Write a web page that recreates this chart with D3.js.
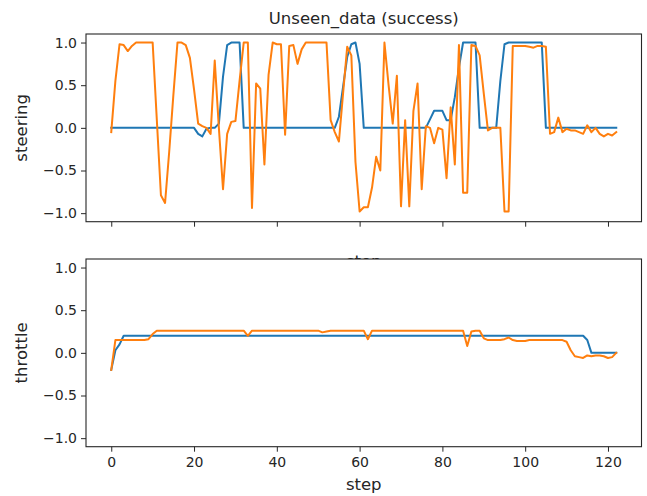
<!DOCTYPE html>
<html>
<head>
<meta charset="utf-8">
<script src="https://cdn.jsdelivr.net/npm/d3@7"></script>
<style>
  body { margin: 0; background: #fff; }
  text { font-family: "DejaVu Sans", sans-serif; fill: #262626; }
</style>
</head>
<body>
<div id="viz"></div>
<script>
// values, one entry per step (0..122)
const steeringTrue = [
    0, 0, 0, 0, 0, 0, 0, 0, 0, 0,
    0, 0, 0, 0, 0, 0, 0, 0, 0, 0,
    0, -0.07, -0.1, -0.01, 0, 0, 0.05, 0.6, 0.97, 1,
    1, 1, 0, 0, 0, 0, 0, 0, 0, 0,
    0, 0, 0, 0, 0, 0, 0, 0, 0, 0,
    0, 0, 0, 0, 0, 0.13, 0.48, 0.83, 0.98, 1,
    0.75, 0, 0, 0, 0, 0, 0, 0, 0, 0,
    0, 0, 0, 0, 0, 0, 0, 0.1, 0.2, 0.2,
    0.2, 0.09, 0.09, 0.36, 0.71, 1, 1, 1, 1, 0,
    0, 0, 0, 0, 0.55, 0.98, 1, 1, 1, 1,
    1, 1, 1, 1, 1, 0, 0, 0, 0, 0,
    0, 0, 0, 0, 0, 0, 0, 0, 0, 0,
    0, 0, 0
];
const steeringPred = [
    -0.05, 0.55, 0.98, 0.97, 0.9, 0.96, 1, 1, 1, 1,
    1, 0.1, -0.79, -0.88, -0.28, 0.38, 1, 1, 0.97, 0.82,
    0.45, 0.05, 0.02, 0, -0.07, 0.79, 0, -0.72, -0.07, 0.07,
    0.08, 0.55, 1, 1, -0.94, 0.52, 0.46, -0.43, 0.62, 1,
    0.98, 0.98, -0.08, 0.96, 0.97, 0.75, 0.92, 1, 1, 1,
    1, 1, 1, 0.09, -0.05, -0.16, 0.4, 0.95, 0.85, -0.4,
    -0.98, -0.93, -0.93, -0.7, -0.34, -0.5, 1, 0.5, 0.05, 0.61,
    -0.92, 0.09, -0.92, 0.2, 0.52, -0.72, 0.02, 0, -0.18, 0,
    -0.02, -0.59, 0.24, -0.43, 0.97, -0.76, -0.76, 0.97, 0.96, 0.85,
    0.4, -0.03, 0, 0, 0, -0.98, -0.98, 0.96, 0.96, 0.96,
    0.96, 0.95, 0.94, 0.96, 0.96, 0.95, -0.07, -0.05, 0.12, -0.05,
    -0.01, -0.03, -0.03, -0.05, -0.07, 0.03, -0.05, 0, -0.07, -0.1,
    -0.07, -0.09, -0.05
];
const throttleTrue = [
    -0.2, 0.03, 0.1, 0.2, 0.2, 0.2, 0.2, 0.2, 0.2, 0.2,
    0.2, 0.2, 0.2, 0.2, 0.2, 0.2, 0.2, 0.2, 0.2, 0.2,
    0.2, 0.2, 0.2, 0.2, 0.2, 0.2, 0.2, 0.2, 0.2, 0.2,
    0.2, 0.2, 0.2, 0.2, 0.2, 0.2, 0.2, 0.2, 0.2, 0.2,
    0.2, 0.2, 0.2, 0.2, 0.2, 0.2, 0.2, 0.2, 0.2, 0.2,
    0.2, 0.2, 0.2, 0.2, 0.2, 0.2, 0.2, 0.2, 0.2, 0.2,
    0.2, 0.2, 0.2, 0.2, 0.2, 0.2, 0.2, 0.2, 0.2, 0.2,
    0.2, 0.2, 0.2, 0.2, 0.2, 0.2, 0.2, 0.2, 0.2, 0.2,
    0.2, 0.2, 0.2, 0.2, 0.2, 0.2, 0.2, 0.2, 0.2, 0.2,
    0.2, 0.2, 0.2, 0.2, 0.2, 0.2, 0.2, 0.2, 0.2, 0.2,
    0.2, 0.2, 0.2, 0.2, 0.2, 0.2, 0.2, 0.2, 0.2, 0.2,
    0.2, 0.2, 0.2, 0.2, 0.2, 0.15, 0, 0, 0, 0,
    0, 0, 0
];
const throttlePred = [
    -0.2, 0.15, 0.15, 0.15, 0.15, 0.15, 0.15, 0.15, 0.15, 0.16,
    0.22, 0.26, 0.26, 0.26, 0.26, 0.26, 0.26, 0.26, 0.26, 0.26,
    0.26, 0.26, 0.26, 0.26, 0.26, 0.26, 0.26, 0.26, 0.26, 0.26,
    0.26, 0.26, 0.26, 0.2, 0.26, 0.26, 0.26, 0.26, 0.26, 0.26,
    0.26, 0.26, 0.26, 0.26, 0.26, 0.26, 0.26, 0.26, 0.26, 0.26,
    0.26, 0.24, 0.25, 0.26, 0.26, 0.26, 0.26, 0.26, 0.26, 0.26,
    0.26, 0.26, 0.16, 0.26, 0.26, 0.26, 0.26, 0.26, 0.26, 0.26,
    0.26, 0.26, 0.26, 0.26, 0.26, 0.26, 0.26, 0.26, 0.26, 0.26,
    0.26, 0.26, 0.26, 0.26, 0.26, 0.26, 0.08, 0.25, 0.26, 0.26,
    0.17, 0.15, 0.15, 0.15, 0.15, 0.16, 0.18, 0.15, 0.14, 0.14,
    0.14, 0.15, 0.15, 0.15, 0.15, 0.15, 0.15, 0.15, 0.15, 0.15,
    0.13, 0.03, -0.04, -0.05, -0.06, -0.03, -0.04, -0.03, -0.03, -0.04,
    -0.06, -0.05, 0
];
const xTicks = [0, 20, 40, 60, 80, 100, 120];
const yTicks = [-1, -0.5, 0, 0.5, 1];
const title = 'Unseen_data (success)';

const svg = d3.select('#viz')
    .append('svg')
    .attr('width', 647)
    .attr('height', 496);

svg.append('rect').attr('width', 647).attr('height', 496).attr('fill', '#fff');

const left = 86, right = 641.5;
const x = d3.scaleLinear()
    .domain([-6.1, 128.1])
    .range([left, right]);

const fmt = d3.format('.1f');

function panel(top, bottom, seriesA, seriesB, ylabel, showX) {
    const y = d3.scaleLinear()
        .domain([-1.1, 1.1])
        .range([bottom, top]);

    const g = svg.append('g');
    // white axes background (covers anything drawn earlier beneath it)
    g.append('rect')
        .attr('x', left).attr('y', top)
        .attr('width', right - left).attr('height', bottom - top)
        .attr('fill', '#fff');

    const line = d3.line()
        .x(function(d, i) { return x(i); })
        .y(function(d) { return y(d); });

    g.append('path').datum(seriesA)
        .attr('d', line).attr('fill', 'none')
        .attr('stroke', '#1f77b4').attr('stroke-width', 2)
        .attr('stroke-linejoin', 'round').attr('stroke-linecap', 'square');
    g.append('path').datum(seriesB)
        .attr('d', line).attr('fill', 'none')
        .attr('stroke', '#ff7f0e').attr('stroke-width', 2)
        .attr('stroke-linejoin', 'round').attr('stroke-linecap', 'square');

    const yAxis = g.append('g')
        .attr('transform', 'translate(' + left + ',0)')
        .call(d3.axisLeft(y).tickValues(yTicks).tickFormat(fmt).tickSize(5).tickPadding(4));
    const xAxis = g.append('g')
        .attr('transform', 'translate(0,' + bottom + ')')
        .call(d3.axisBottom(x).tickValues(xTicks).tickSize(5).tickPadding(5)
            .tickFormat(showX ? d3.format('d') : ''));

    [yAxis, xAxis].forEach(function(a) {
        a.select('.domain').remove();
        a.selectAll('line').attr('stroke', '#262626').attr('stroke-width', 1);
        a.selectAll('text').style('font-size', '14px').attr('fill', '#262626');
    });

    g.append('rect')
        .attr('x', left).attr('y', top)
        .attr('width', right - left).attr('height', bottom - top)
        .attr('fill', 'none').attr('stroke', '#262626').attr('stroke-width', 1.1);

    svg.append('text')
        .attr('transform', 'translate(27,' + (top + bottom) / 2 + ') rotate(-90)')
        .attr('text-anchor', 'middle')
        .style('font-size', '16.5px')
        .text(ylabel);
}

svg.append('text')
    .attr('x', (left + right) / 2).attr('y', 24)
    .attr('text-anchor', 'middle')
    .style('font-size', '16.5px')
    .text(title);

// x label of the upper panel, mostly hidden behind the lower panel
svg.append('text')
    .attr('x', (left + right) / 2).attr('y', 267)
    .attr('text-anchor', 'middle')
    .style('font-size', '16.5px')
    .text('step');

panel(34, 221.7, steeringTrue, steeringPred, 'steering', false);
panel(259, 446.7, throttleTrue, throttlePred, 'throttle', true);

svg.append('text')
    .attr('x', (left + right) / 2).attr('y', 490)
    .attr('text-anchor', 'middle')
    .style('font-size', '16.5px')
    .text('step');
</script>
</body>
</html>
